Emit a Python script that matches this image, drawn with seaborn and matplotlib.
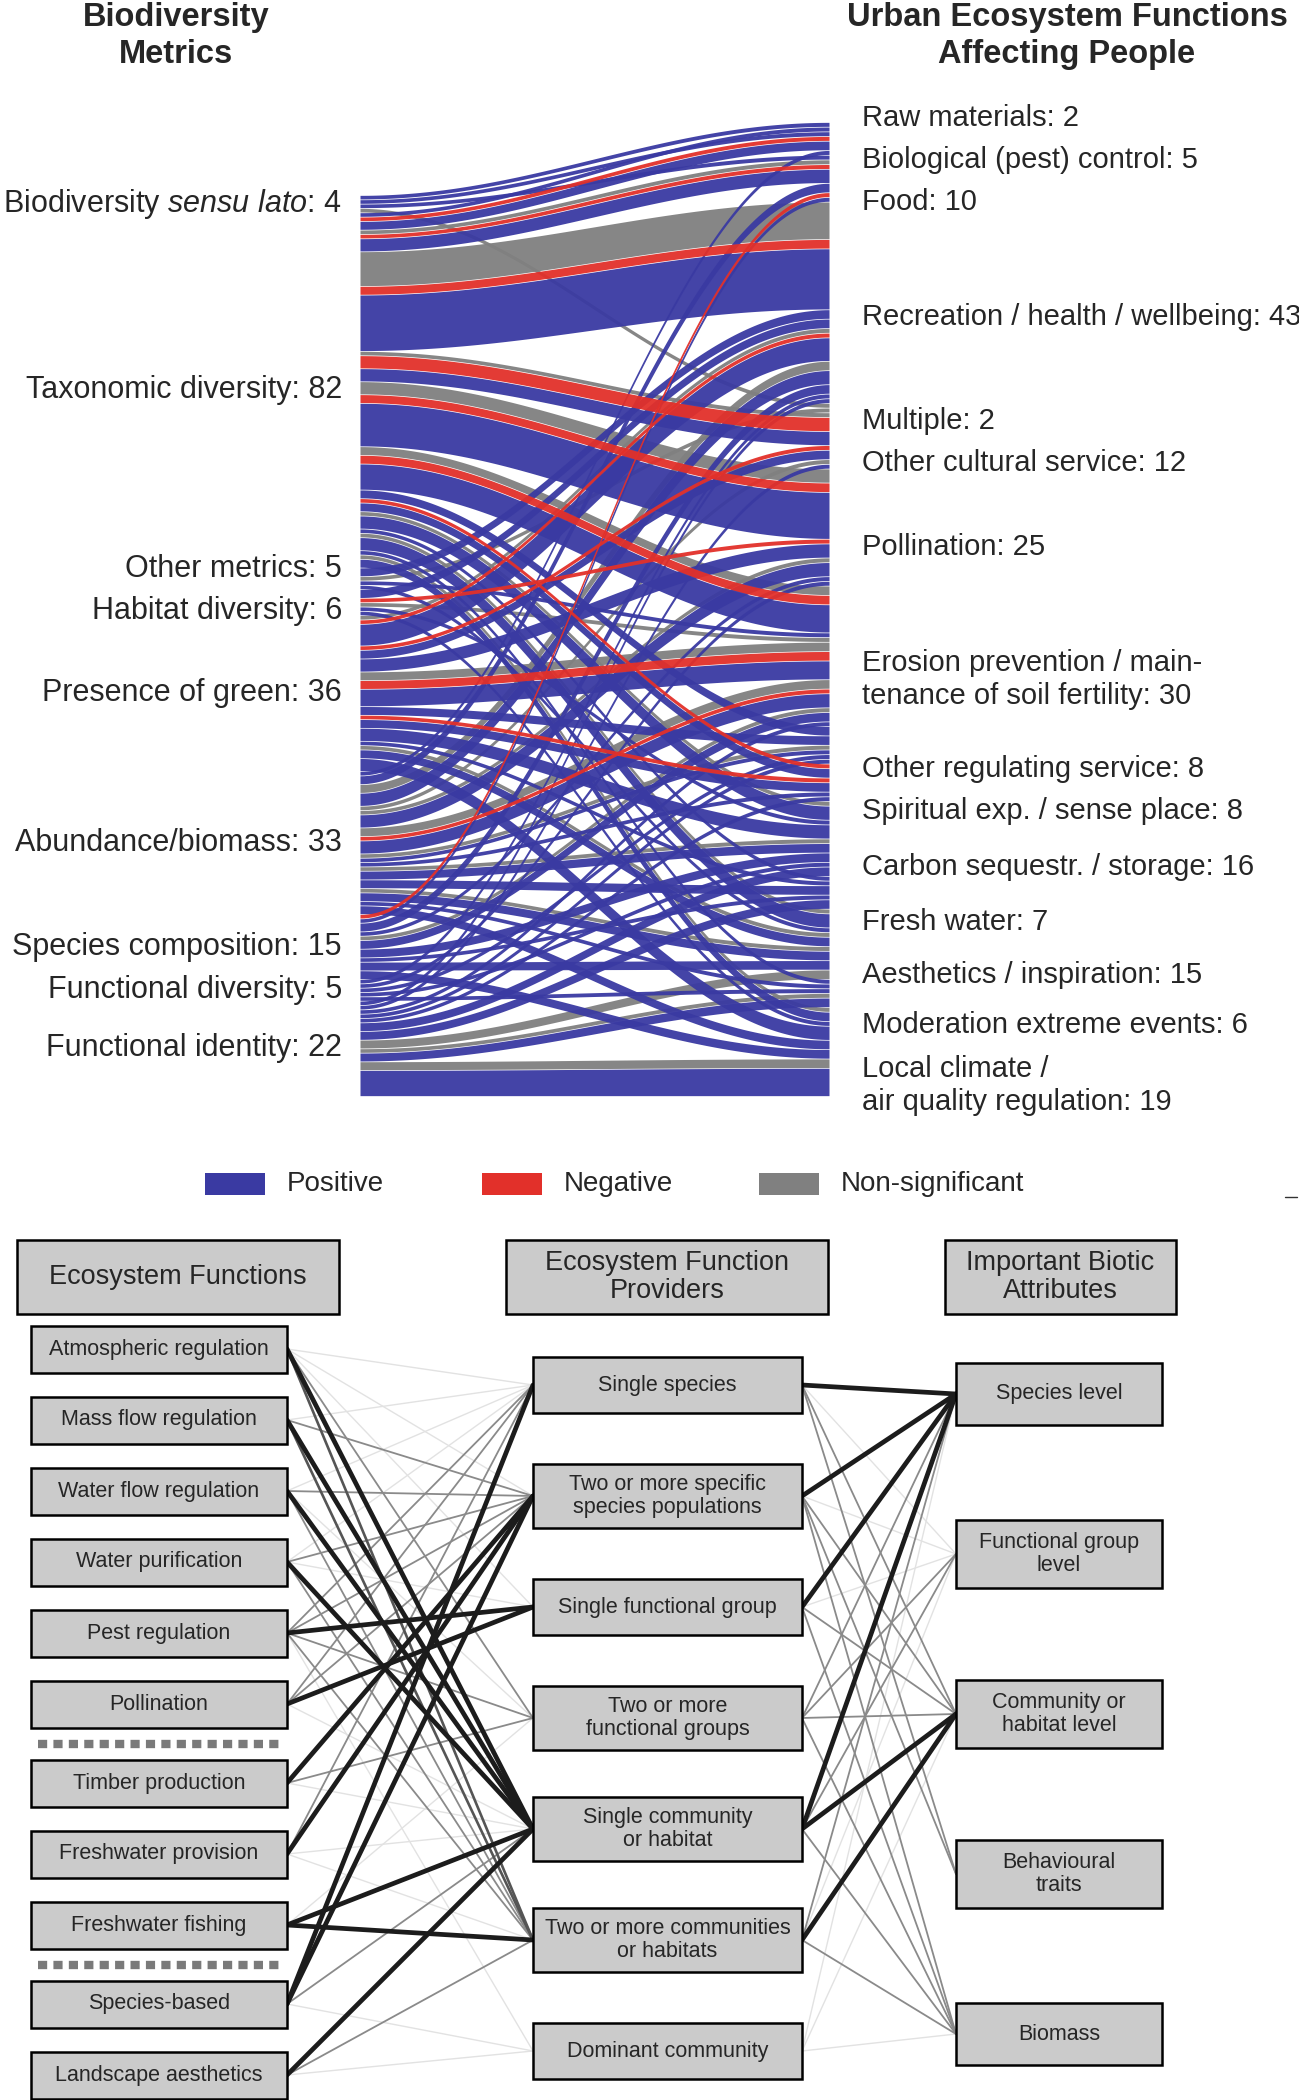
import numpy as np
import pandas as pd
import seaborn as sns
from matplotlib import pyplot as plt
from matplotlib.patches import Rectangle

# ---------------- alluvial data ----------------
# biodiversity metrics (left) and urban ecosystem functions (right)
metrics = ["bsl", "tax", "oth", "hab", "green", "abund", "comp", "fdiv", "fid"]
metric_names = ["Biodiversity $\\mathit{sensu\\ lato}$", "Taxonomic diversity", "Other metrics",
                "Habitat diversity", "Presence of green", "Abundance/biomass",
                "Species composition", "Functional diversity", "Functional identity"]
functions = ["raw", "bio", "food", "rec", "mult", "cult", "poll", "eros",
             "reg", "spir", "carb", "fw", "aes", "mod", "clim"]
function_names = ["Raw materials", "Biological (pest) control", "Food",
                  "Recreation / health / wellbeing", "Multiple", "Other cultural service",
                  "Pollination", "Erosion prevention / main-\ntenance of soil fertility",
                  "Other regulating service", "Spiritual exp. / sense place",
                  "Carbon sequestr. / storage", "Fresh water", "Aesthetics / inspiration",
                  "Moderation extreme events", "Local climate /\nair quality regulation"]

# (function, effect sign, number of results)  P positive, N negative, G non-significant
flows_bsl = [("raw", "P", 1), ("bio", "P", 1), ("food", "P", 1), ("mult", "G", 1)]
flows_tax = [("raw", "P", 1), ("bio", "P", 2), ("bio", "N", 1), ("food", "P", 3), ("food", "N", 1),
             ("food", "G", 1), ("rec", "P", 13), ("rec", "G", 8), ("rec", "N", 2), ("cult", "P", 3),
             ("cult", "N", 3), ("cult", "G", 1), ("poll", "P", 10), ("poll", "N", 2), ("poll", "G", 3),
             ("eros", "P", 6), ("eros", "N", 2), ("eros", "G", 2), ("reg", "P", 2), ("spir", "P", 2),
             ("spir", "N", 1), ("carb", "P", 3), ("carb", "G", 1), ("fw", "P", 1), ("aes", "P", 3),
             ("aes", "G", 1), ("mod", "P", 1), ("clim", "P", 2), ("clim", "G", 1)]
flows_oth = [("rec", "P", 2), ("mult", "G", 1), ("eros", "P", 1), ("aes", "P", 1)]
flows_hab = [("rec", "P", 2), ("poll", "N", 1), ("eros", "G", 1), ("carb", "P", 1), ("clim", "P", 1)]
flows_green = [("rec", "P", 5), ("rec", "N", 1), ("rec", "G", 1), ("cult", "P", 2), ("cult", "N", 1),
               ("poll", "P", 3), ("eros", "P", 4), ("eros", "N", 2), ("eros", "G", 2), ("reg", "P", 2),
               ("spir", "P", 2), ("spir", "N", 1), ("carb", "P", 3), ("fw", "P", 1), ("aes", "P", 2),
               ("aes", "G", 1), ("clim", "P", 3)]
flows_abund = [("bio", "P", 1), ("food", "P", 2), ("rec", "P", 3), ("rec", "G", 2), ("cult", "G", 1),
               ("poll", "P", 3), ("poll", "G", 1), ("eros", "P", 3), ("eros", "G", 2), ("eros", "N", 1),
               ("reg", "P", 1), ("reg", "G", 1), ("spir", "P", 1), ("carb", "P", 2), ("carb", "G", 1),
               ("fw", "P", 2), ("aes", "P", 2), ("aes", "G", 1), ("mod", "P", 1), ("clim", "P", 2)]
flows_comp = [("food", "P", 1), ("food", "N", 1), ("rec", "P", 2), ("poll", "P", 1), ("eros", "P", 2),
              ("eros", "G", 1), ("carb", "P", 2), ("fw", "P", 1), ("aes", "P", 2), ("clim", "P", 2)]
flows_fdiv = [("rec", "P", 1), ("poll", "P", 1), ("reg", "P", 1), ("carb", "P", 1), ("mod", "P", 1)]
flows_fid = [("rec", "P", 1), ("cult", "P", 1), ("eros", "P", 1), ("reg", "P", 1), ("spir", "P", 1),
             ("carb", "P", 2), ("fw", "P", 2), ("aes", "G", 2), ("mod", "P", 2), ("mod", "G", 1),
             ("clim", "G", 2), ("clim", "P", 6)]
all_flows = [flows_bsl, flows_tax, flows_oth, flows_hab, flows_green,
             flows_abund, flows_comp, flows_fdiv, flows_fid]

legend_labels = ["Positive", "Negative", "Non-significant"]

# ---------------- network data ----------------
ef_nodes = ["Atmospheric regulation", "Mass flow regulation", "Water flow regulation",
            "Water purification", "Pest regulation", "Pollination", "Timber production",
            "Freshwater provision", "Freshwater fishing", "Species-based", "Landscape aesthetics"]
ef_block = [0, 0, 0, 0, 0, 0, 1, 1, 1, 2, 2]
efp_nodes = ["Single species", "Two or more specific\nspecies populations", "Single functional group",
             "Two or more\nfunctional groups", "Single community\nor habitat",
             "Two or more communities\nor habitats", "Dominant community"]
iba_nodes = ["Species level", "Functional group\nlevel", "Community or\nhabitat level",
             "Behavioural\ntraits", "Biomass"]
headers = ["Ecosystem Functions", "Ecosystem Function\nProviders", "Important Biotic\nAttributes"]

# (function index, provider index, strength 0 faint .. 3 strong)
ef_to_efp = [(0, 0, 0), (0, 1, 0), (0, 2, 0), (1, 0, 0), (2, 0, 0), (3, 2, 0), (6, 4, 0), (7, 5, 0),
             (9, 6, 0), (10, 6, 0), (4, 6, 0), (3, 0, 0), (8, 3, 0), (5, 4, 0), (7, 4, 0), (2, 3, 0),
             (1, 1, 1), (2, 1, 1), (3, 1, 1), (4, 0, 1), (4, 1, 1), (4, 3, 1), (4, 5, 1), (5, 0, 1),
             (5, 1, 1), (6, 3, 1), (10, 5, 1), (0, 3, 1), (3, 5, 1), (2, 5, 1), (7, 0, 1), (9, 4, 1),
             (1, 5, 2), (0, 5, 2),
             (0, 4, 3), (1, 4, 3), (2, 4, 3), (3, 4, 3), (4, 2, 3), (5, 2, 3), (6, 1, 3), (7, 1, 3),
             (8, 4, 3), (8, 5, 3), (9, 0, 3), (9, 1, 3), (10, 4, 3)]
# (provider index, attribute index, strength)
efp_to_iba = [(6, 2, 0), (6, 0, 0), (0, 1, 0), (1, 1, 0), (5, 1, 0), (2, 1, 0), (6, 4, 0),
              (0, 2, 1), (0, 3, 1), (1, 2, 1), (1, 4, 1), (1, 3, 1), (2, 2, 1), (2, 4, 1), (3, 0, 1),
              (3, 2, 1), (3, 1, 1), (3, 4, 1), (4, 4, 1), (5, 0, 1), (5, 4, 1), (4, 1, 1),
              (0, 0, 3), (1, 0, 3), (2, 0, 3), (4, 0, 3), (4, 2, 3), (5, 2, 3)]

# ---------------- style ----------------
sns.set_theme(style="white")
plt.rcParams["font.family"] = ["Liberation Sans", "DejaVu Sans"]
plt.rcParams["mathtext.fontset"] = "custom"
plt.rcParams["mathtext.rm"] = "Liberation Sans"
plt.rcParams["mathtext.it"] = "Liberation Sans:italic"

sign_codes = ["P", "N", "G"]
sign_colors = dict(zip(sign_codes, sns.color_palette(["#3a3aa2", "#e2302a", "#808080"])))
sign_z = {"G": 1, "P": 2, "N": 3}
sign_rank = {"G": 0, "N": 1, "P": 2}
edge_style = {0: ("#e2e2e2", 1.0), 1: ("#8a8a8a", 1.3), 2: ("#555555", 1.9), 3: ("#1c1c1c", 3.4)}

fig = plt.figure(figsize=(12.99, 21), dpi=100)
ax = fig.add_axes([0, 0, 1, 1])
ax.set_xlim(0, 1299)
ax.set_ylim(2100, 0)
ax.axis("off")

# ---------------- alluvial ----------------
rows = []
for m, fl in zip(metrics, all_flows):
    for f, s, n in fl:
        rows.append(dict(metric=m, function=f, sign=s, n=n))
df = pd.DataFrame(rows)
df["mi"] = df["metric"].map({m: i for i, m in enumerate(metrics)})
df["fi"] = df["function"].map({f: i for i, f in enumerate(functions)})
df["si"] = df["sign"].map(sign_rank)

left = df.sort_values(["mi", "fi", "si"])
df.loc[left.index, "lstart"] = left["n"].cumsum() - left["n"]
right = df.sort_values(["fi", "mi", "si"])
df.loc[right.index, "rstart"] = right["n"].cumsum() - right["n"]
total = df["n"].sum()

X_L, X_R = 360, 829
L_TOP, R_TOP, BOTTOM = 195, 122, 1096
uL = (BOTTOM - L_TOP) / total
uR = (BOTTOM - R_TOP) / total
GAP = 0.35

t = np.linspace(0, 1, 120)
s_curve = (1 - np.cos(np.pi * t)) / 2
xs = X_L + (X_R - X_L) * t
for r in df.itertuples():
    la, lb = L_TOP + r.lstart * uL + GAP, L_TOP + (r.lstart + r.n) * uL - GAP
    ra, rb = R_TOP + r.rstart * uR + GAP, R_TOP + (r.rstart + r.n) * uR - GAP
    ax.fill_between(xs, la + (ra - la) * s_curve, lb + (rb - lb) * s_curve,
                    color=sign_colors[r.sign], lw=0, alpha=0.95, zorder=sign_z[r.sign])


def spread(ys, hs):
    ys = list(ys)
    for _ in range(300):
        moved = False
        for i in range(len(ys) - 1):
            need = (hs[i] + hs[i + 1]) / 2
            if ys[i + 1] - ys[i] < need - 0.01:
                d = (need - (ys[i + 1] - ys[i])) / 2
                ys[i] -= d
                ys[i + 1] += d
                moved = True
        if not moved:
            break
    return ys


m_tot = df.groupby("mi")["n"].sum().sort_index()
m_start = m_tot.cumsum() - m_tot
m_y = [L_TOP + (m_start[i] + m_tot[i] / 2) * uL for i in m_tot.index]
m_y = spread(m_y, [42] * len(m_y))
for name, cnt, y in zip(metric_names, m_tot, m_y):
    ax.text(342, y, f"{name}: {cnt}", ha="right", va="center", fontsize=22)

f_tot = df.groupby("fi")["n"].sum().sort_index()
f_start = f_tot.cumsum() - f_tot
f_y = [R_TOP + (f_start[i] + f_tot[i] / 2) * uR for i in f_tot.index]
# labels sit a little below their stratum, more so towards the bottom
f_y = [y + 10 + 25 * (y - R_TOP) / (BOTTOM - R_TOP) for y in f_y]
f_h = [70 if "\n" in nm else 42 for nm in function_names]
f_y = spread(f_y, f_h)
for name, cnt, y in zip(function_names, f_tot, f_y):
    ax.text(862, y, f"{name}: {cnt}", ha="left", va="center", fontsize=21, linespacing=1.2)

ax.text(176, 36, "Biodiversity\nMetrics", ha="center", va="center", fontsize=23.5,
        fontweight="bold", linespacing=1.25)
ax.text(1067, 36, "Urban Ecosystem Functions\nAffecting People", ha="center", va="center",
        fontsize=23.5, fontweight="bold", linespacing=1.25)

# legend
for i, (code, lab) in enumerate(zip(sign_codes, legend_labels)):
    x0 = 205 + i * 277
    ax.add_patch(Rectangle((x0, 1173), 60, 22, facecolor=sign_colors[code], lw=0))
    ax.text(x0 + 82, 1184, lab, ha="left", va="center", fontsize=20)
ax.plot([1285, 1297], [1197, 1197], color="#333333", lw=1)

# ---------------- network ----------------
EF_X, EFP_X, IBA_X = (31, 287), (533, 802), (956, 1162)
ef_y = [1349 + 71 * i + 8 * b for i, b in enumerate(ef_block)]
efp_y = [1385 + 111 * i for i in range(len(efp_nodes))]
iba_y = [1394 + 160 * i for i in range(len(iba_nodes))]

for links, xa, ya, xb, yb in [(ef_to_efp, EF_X[1], ef_y, EFP_X[0], efp_y),
                              (efp_to_iba, EFP_X[1], efp_y, IBA_X[0], iba_y)]:
    for strength in range(4):
        col, lw = edge_style[strength]
        for a, b, st in links:
            if st == strength:
                ax.plot([xa, xb], [ya[a], yb[b]], color=col, lw=lw,
                        solid_capstyle="round", zorder=2 + strength)


def box(x0, x1, yc, h, label, size):
    ax.add_patch(Rectangle((x0, yc - h / 2), x1 - x0, h, facecolor="#cbcbcb",
                           edgecolor="black", lw=1.8, zorder=10))
    ax.text((x0 + x1) / 2, yc, label, ha="center", va="center", fontsize=size,
            linespacing=1.15, zorder=11)


for lab, y in zip(ef_nodes, ef_y):
    box(EF_X[0], EF_X[1], y, 47, lab, 15.5)
for lab, y in zip(efp_nodes, efp_y):
    box(EFP_X[0], EFP_X[1], y, 64 if "\n" in lab else 56, lab, 15.5)
for lab, y in zip(iba_nodes, iba_y):
    box(IBA_X[0], IBA_X[1], y, 68 if "\n" in lab else 62, lab, 15.5)

for (x0, x1), lab in zip([(17, 339), (506, 828), (945, 1176)], headers):
    box(x0, x1, 1277, 74, lab, 19.5)

# dotted separators between function groups
for i in range(1, len(ef_block)):
    if ef_block[i] != ef_block[i - 1]:
        ysep = (ef_y[i - 1] + ef_y[i]) / 2
        ax.plot([38, 280], [ysep, ysep], color="#7a7a7a", lw=6,
                linestyle=(0, (1.1, 0.75)), solid_capstyle="butt")

fig.savefig("out.png", dpi=100, facecolor="white")
